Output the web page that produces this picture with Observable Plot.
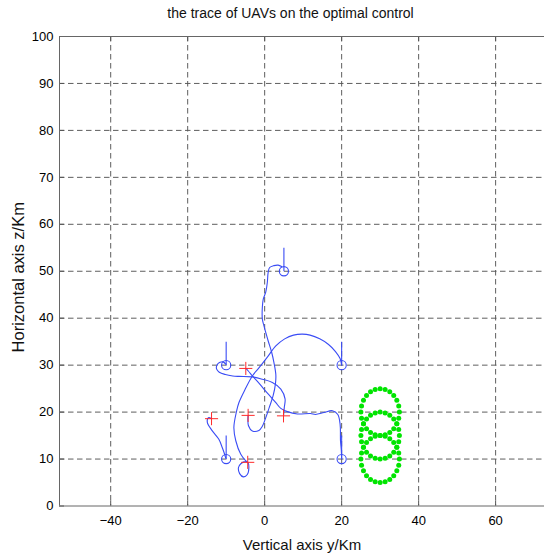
<!DOCTYPE html>
<html><head><meta charset="utf-8">
<script src="https://cdn.jsdelivr.net/npm/d3@7"></script>
<script src="https://cdn.jsdelivr.net/npm/@observablehq/plot@0.6"></script>
<style>body{margin:0;background:#fff}</style>
</head><body><div id="chart"></div>
<script>
// ---- data ----
const xTicks = [-40, -20, 0, 20, 40, 60];
const yTicks = [0, 10, 20, 30, 40, 50, 60, 70, 80, 90, 100];
const xDomain = [-53.3, 72.7];
const yDomain = [0, 100];

// UAV start positions (blue circles) and heading indicator ends
const startY = [5, -10, 20, -10, 20];
const startZ = [50, 30, 30, 10, 10];
const headingEndZ = [55, 35, 35, 15, 15];

// targets (red +)
const targetY = [-4.9, -13.8, -4.3, 4.9, -4.4];
const targetZ = [29.3, 18.6, 19.3, 19.2, 9.3];

// trajectories [y, z]
const traceA = [[4.4,51],[3.5,51.3],[2.4,51.2],[1.3,50.8],[0.9,49.7],[0.7,47.7],[0.3,45.6],[-0.35,44.1],[-0.6,42.4],[-0.6,39.8],[-0.2,38.4],[0.9,35.2],[1.8,32.8],[2.4,30.6],[2.9,28],[2.8,26],[2.2,23.5],[1.2,21],[0.2,18.6],[-0.6,17],[-1.5,16.1],[-3.2,16],[-4.2,17.1],[-4.3,19.3]];
const traceB = [[-10.1,30.2],[-10.8,30.7],[-11.6,30.6],[-12.4,30],[-12.5,29.2],[-11.8,28.5],[-10.2,28],[-8.3,27.7],[-6.7,27.6],[-3.2,27.5],[-0.6,27],[2,26.3],[4.2,24.9],[5.3,22.8],[5.1,21],[4.9,19.2]];
const traceC = [[20,30],[19.6,31.4],[18.4,32.9],[16.6,34.4],[14.3,35.6],[11.8,36.4],[9.8,36.6],[7.5,36.4],[5.2,35.6],[2.9,34.1],[0.6,31.6],[-1.6,29.3],[-3.2,27.7],[-5.1,24.8],[-6.7,22],[-7.3,20.2],[-8,16.7],[-7.5,13.9],[-6.2,11],[-4.9,9.6],[-4.3,9.2],[-4.1,8.2],[-4.5,6.7],[-5.5,6.2],[-6.5,6.9],[-6.8,8.2],[-6.2,9.0],[-5.4,9.4],[-4.6,9.4]];
const traceD = [[-10.1,10.2],[-10.6,11.5],[-11,12.4],[-11.9,14.2],[-13.6,16],[-14.9,17.8],[-14.6,18.8],[-13.8,18.6]];
const traceE = [[20,10],[19.9,12],[19.7,13.9],[19.6,17.4],[19,19.5],[17.6,20.3],[15.4,19.9],[13.2,19.5],[11.9,19.7],[8.5,19.6],[5.9,20.1],[4.2,20.8],[2.9,22],[1.3,23.5],[-0.2,24.9],[-1.6,26.3],[-3.2,27.7],[-4.2,28.7],[-4.9,29.3]];

// loiter rings (green dots)
const ringCenterY = [30, 30, 30];
const ringCenterZ = [10, 15, 20];
const ringRadius = 5;
const dotsPerRing = 24;

// ---- tables ----
const traces = [traceA, traceB, traceC, traceD, traceE]
  .flatMap((t, i) => t.map(([y, z]) => ({uav: i, y, z})));
const starts = startY.map((y, i) => ({y, z: startZ[i], z2: headingEndZ[i]}));
const targets = targetY.map((y, i) => ({y, z: targetZ[i]}));
const ringDots = ringCenterY.flatMap((cy, k) =>
  d3.range(dotsPerRing).map(j => {
    const a = 2 * Math.PI * j / dotsPerRing;
    return {y: cy + ringRadius * Math.cos(a), z: ringCenterZ[k] + ringRadius * Math.sin(a)};
  }));

const W = 544, H = 555, mL = 59, mR = 0, mT = 36, mB = 49.5;
const frameW = W - mL - mR, frameH = H - mT - mB;
const blue = "#3a4cf5", red = "#ff2a2a", green = "#00e400";
const gridStyle = {stroke: "#555", strokeOpacity: 0.95, strokeWidth: 1, strokeDasharray: "5.5,3.5"};
const font = "'Liberation Sans', Arial, Helvetica, sans-serif";

const chart = Plot.plot({
  width: W, height: H,
  marginLeft: mL, marginRight: mR, marginTop: mT, marginBottom: mB,
  style: {fontFamily: font, fontSize: "13px", color: "#000", background: "#fff"},
  x: {domain: xDomain, ticks: xTicks, tickSize: 0, tickPadding: 10, label: null},
  y: {domain: yDomain, ticks: yTicks, tickSize: 0, tickPadding: 6, label: null},
  marks: [
    // grid
    Plot.ruleX(xTicks, gridStyle),
    Plot.ruleY(yTicks.filter(v => v > yDomain[0] && v < yDomain[1]), gridStyle),
    // inner ticks
    Plot.ruleX(xTicks, {stroke: "#555", insetTop: frameH - 5}),
    Plot.ruleX(xTicks, {stroke: "#555", insetBottom: frameH - 5}),
    Plot.ruleY(yTicks, {stroke: "#555", insetRight: frameW - 5}),
    // axes lines
    Plot.ruleX([xDomain[0]], {stroke: "#666"}),
    Plot.ruleY([yDomain[0], yDomain[1]], {stroke: "#666"}),
    // loiter rings
    Plot.dot(ringDots, {x: "y", y: "z", r: 2.5, fill: green, stroke: "none"}),
    // trajectories
    Plot.line(traces, {x: "y", y: "z", z: "uav", stroke: blue, strokeWidth: 1.1, curve: "catmull-rom"}),
    // heading indicators
    Plot.link(starts, {x1: "y", y1: "z", x2: "y", y2: "z2", stroke: blue, strokeWidth: 1.1}),
    Plot.dot(starts, {x: "y", y: "z", r: 4.6, stroke: blue, strokeWidth: 1.1, fill: "none"}),
    // targets
    Plot.dot(targets, {x: "y", y: "z", symbol: "plus", r: 4.3, stroke: red, strokeWidth: 1, fill: "none"}),
    // texts
    Plot.text(["the trace of UAVs on the optimal control"], {frameAnchor: "top", lineAnchor: "bottom", dx: -11.5, dy: -18.5, fontSize: 14, fontFamily: font, fill: "#111"}),
    Plot.text(["Vertical axis y/Km"], {frameAnchor: "bottom", lineAnchor: "bottom", dy: 43.5, fontSize: 15, fontFamily: font, fill: "#111"}),
    Plot.text(["Horizontal axis z/Km"], {frameAnchor: "left", textAnchor: "middle", lineAnchor: "middle", rotate: -90, dx: -41, dy: 6, fontSize: 16.5, fontFamily: font, fill: "#111"})
  ]
});
document.getElementById("chart").appendChild(chart);
</script>
</body></html>
